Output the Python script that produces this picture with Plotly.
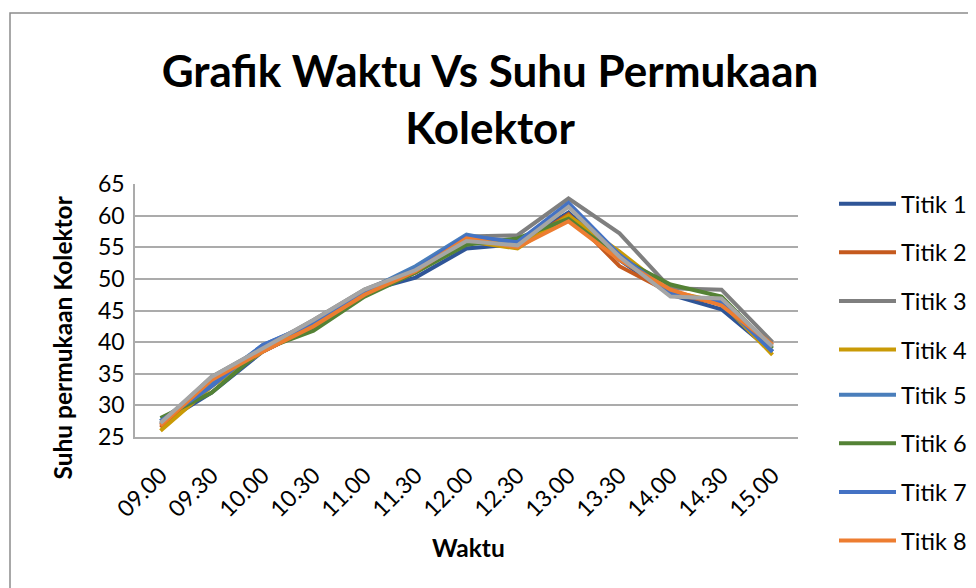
import plotly.graph_objects as go

waktu = ["09.00", "09.30", "10.00", "10.30", "11.00", "11.30", "12.00",
         "12.30", "13.00", "13.30", "14.00", "14.30", "15.00"]

titik_1 = [27.0, 32.0, 38.5, 42.5, 48.0, 50.2, 54.8, 55.5, 60.5, 53.0, 47.5, 45.2, 38.5]
titik_2 = [26.5, 33.5, 38.5, 42.5, 47.5, 51.0, 56.0, 55.0, 60.2, 52.0, 47.8, 46.0, 39.5]
titik_3 = [27.0, 34.5, 39.0, 43.5, 48.3, 51.5, 56.7, 56.9, 62.7, 57.2, 48.5, 48.3, 40.0]
titik_4 = [26.0, 33.0, 38.5, 42.8, 47.5, 51.0, 56.0, 54.8, 60.0, 54.3, 48.0, 46.3, 38.0]
titik_5 = [27.5, 33.5, 39.5, 43.0, 48.0, 52.0, 57.0, 55.5, 61.5, 53.5, 47.5, 46.5, 38.5]
titik_6 = [28.0, 32.0, 38.8, 41.8, 47.2, 51.0, 55.4, 56.4, 59.5, 53.3, 49.1, 47.2, 39.0]
titik_7 = [27.5, 33.0, 39.5, 43.0, 48.0, 51.5, 56.8, 55.8, 62.0, 53.8, 47.7, 46.3, 38.5]
titik_8 = [26.8, 34.0, 38.5, 42.5, 47.5, 51.2, 56.4, 55.0, 59.1, 53.0, 48.3, 45.8, 39.6]
titik_9 = [27.2, 34.5, 39.0, 43.5, 48.3, 51.4, 56.0, 55.3, 61.4, 53.5, 47.2, 46.9, 39.3]

series_names = ["Titik 1", "Titik 2", "Titik 3", "Titik 4", "Titik 5",
                "Titik 6", "Titik 7", "Titik 8", "Titik 9"]
series_values = [titik_1, titik_2, titik_3, titik_4, titik_5,
                 titik_6, titik_7, titik_8, titik_9]
series_colors = ["#2F5597", "#C55A1E", "#7F7F7F", "#C99A06", "#4A7EBB",
                 "#548235", "#4472C4", "#ED7D31", "#A5A5A5"]

FONT = "Lato"

fig = go.Figure()
for i, (name, vals, col) in enumerate(zip(series_names, series_values, series_colors)):
    fig.add_trace(go.Scatter(
        x=waktu, y=vals, name=name, mode="lines",
        line=dict(color=col, width=4),
        legendgroup=name,
        legend="legend" if i < 4 else "legend2",
        showlegend=(i < 8),
    ))

# page body has an 8px margin: work in reference pixels, shifted by OFF
OFF = 8
W, H = 976 - OFF, 588 - OFF
L, R, T, B = 135 - OFF, 798 - OFF, 184 - OFF, 437 - OFF
pw, ph = R - L, B - T

def px(x):
    return (x - OFF - L) / pw

def py(y):
    return (B - (y - OFF)) / ph

legend_style = dict(
    xanchor="left", yanchor="top",
    font=dict(size=23.5, family=FONT),
    itemwidth=57, tracegroupgap=15,
    bgcolor="rgba(0,0,0,0)",
)

fig.update_layout(
    width=W, height=H,
    margin=dict(l=L, r=W - R, t=T, b=H - B, autoexpand=False),
    paper_bgcolor="white", plot_bgcolor="white",
    font=dict(family=FONT, color="black"),
    title=dict(
        text="<b>Grafik Waktu Vs Suhu Permukaan<br>Kolektor</b>",
        font=dict(size=44, family=FONT, color="black"),
        x=(490 - OFF) / W, xref="container", xanchor="center",
        y=1 - (87 - OFF) / H, yref="container", yanchor="middle",
    ),
    xaxis=dict(
        type="category", range=[-0.5, 12.5],
        showgrid=False, showline=True, linecolor="#ABABAB", linewidth=1.5,
        ticks="", tickangle=-45, tickfont=dict(size=23, family=FONT),
        ticklabelstandoff=14,
    ),
    yaxis=dict(
        range=[25, 65], dtick=5, tick0=25,
        showgrid=True, gridcolor="#ABABAB", gridwidth=1.5,
        showline=True, linecolor="#ABABAB", linewidth=1.5,
        ticks="", tickfont=dict(size=23, family=FONT),
        ticklabelstandoff=4,
        zeroline=False,
    ),
    legend=dict(x=px(834), y=py(182), **legend_style),
    legend2=dict(x=px(834), y=py(373), **legend_style),
    showlegend=True,
)

fig.add_annotation(
    text="<b>Suhu permukaan Kolektor</b>", textangle=-90,
    xref="paper", yref="paper", x=px(62), y=py(337.5),
    xanchor="center", yanchor="middle", showarrow=False,
    font=dict(size=24.5, family=FONT, color="black"),
)
fig.add_annotation(
    text="<b>Waktu</b>",
    xref="paper", yref="paper", x=px(468), y=py(547),
    xanchor="center", yanchor="middle", showarrow=False,
    font=dict(size=24.5, family=FONT, color="black"),
)

# outer chart frame (cropped on right and bottom in reference)
fig.add_shape(
    type="rect", xref="paper", yref="paper",
    x0=px(10), x1=px(1000), y0=py(610), y1=py(13),
    line=dict(color="#8C8C8C", width=1.5), layer="above",
)

fig.write_html("out.html")
